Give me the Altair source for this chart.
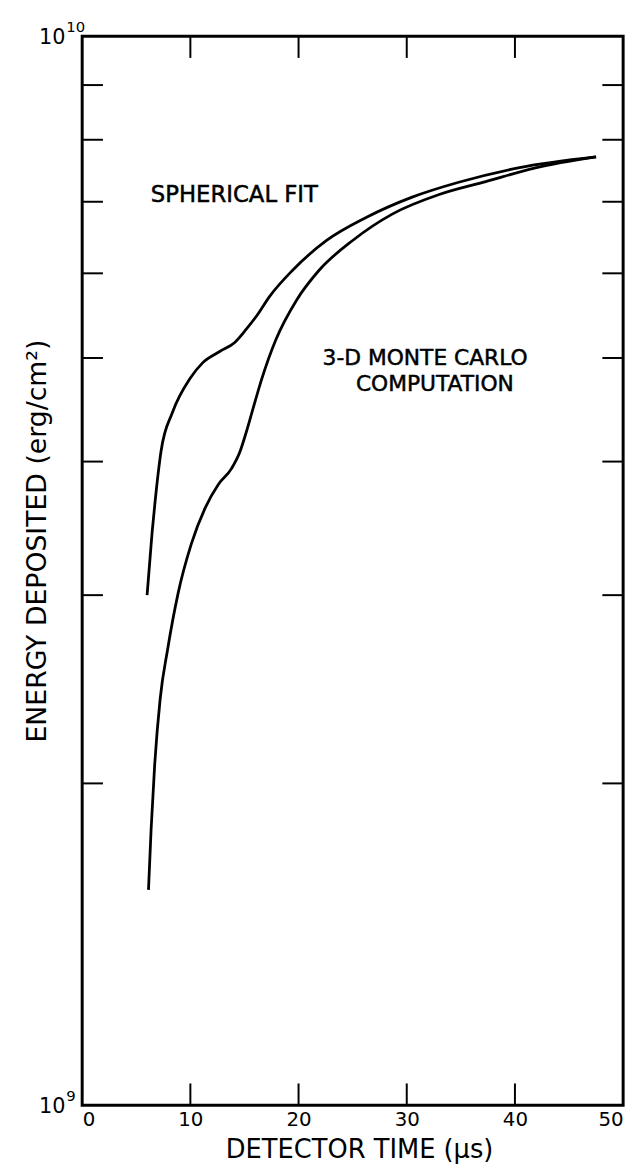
import altair as alt
import pandas as pd

# ---- data ----
sph_t = [6.0, 6.46, 6.74, 7.29, 8.36, 9.95, 11.15, 12.71, 14.1, 15.17, 16.1, 17.33,
         19.45, 22.59, 26.29, 30.5, 34.8, 40.3, 47.5]
sph_e = [3.00e9, 3.43e9, 3.67e9, 4.09e9, 4.45e9, 4.78e9, 4.95e9, 5.07e9, 5.17e9, 5.32e9,
         5.47e9, 5.71e9, 6.04e9, 6.44e9, 6.77e9, 7.07e9, 7.30e9, 7.53e9, 7.71e9]

mc_t = [6.13, 6.37, 6.70, 7.21, 7.90, 8.86, 10.09, 11.37, 12.6, 13.8, 14.6, 15.1, 15.7,
        16.6, 17.9, 19.8, 21.9, 25.0, 28.7, 33.0, 37.3, 41.9, 47.5]
mc_e = [1.59e9, 1.81e9, 2.08e9, 2.40e9, 2.67e9, 3.01e9, 3.35e9, 3.62e9, 3.81e9, 3.94e9,
        4.09e9, 4.24e9, 4.45e9, 4.78e9, 5.20e9, 5.66e9, 6.04e9, 6.44e9, 6.82e9, 7.11e9,
        7.31e9, 7.53e9, 7.71e9]

x_tick_values = [0, 10, 20, 30, 40, 50]
x_inner_ticks = [10, 20, 30, 40]
y_inner_ticks = [2e9, 3e9, 4e9, 5e9, 6e9, 7e9, 8e9, 9e9]
y_label_values = [1e9, 1e10]
y_label_base = ["10", "10"]
y_label_exp = ["9", "10"]

ann_text = ["SPHERICAL FIT", "3-D MONTE CARLO", "COMPUTATION"]
ann_t = [6.35, 31.7, 32.6]
ann_e = [6.99e9, 4.92e9, 4.66e9]
ann_align = ["left", "center", "center"]

W, H = 547, 1081
FONT = "DejaVu Sans"

curves = pd.DataFrame({
    "t": sph_t + mc_t,
    "e": sph_e + mc_e,
    "series": ["Spherical fit"] * len(sph_t) + ["3-D Monte Carlo"] * len(mc_t),
})

xs = alt.Scale(domain=[0, 50], nice=False, zero=False)
ys = alt.Scale(type="log", domain=[1e9, 1e10], nice=False)

x_axis = alt.Axis(values=x_tick_values, format="d", grid=False, ticks=False, domain=False,
                  labelFontSize=20, labelFont=FONT, labelColor="black", labelPadding=5,
                  title="DETECTOR TIME (\u03bcs)", titleFont=FONT, titleFontSize=26,
                  titleFontWeight="normal", titleColor="black",
                  titleX=280, titleY=53, titleBaseline="alphabetic", titleAlign="center")
y_axis = alt.Axis(labels=False, ticks=False, domain=False, grid=False,
                  title="ENERGY DEPOSITED (erg/cm\u00b2)", titleFont=FONT, titleFontSize=27,
                  titleFontWeight="normal", titleColor="black", titleAngle=-90,
                  titleX=-45, titleY=510, titleAlign="center", titleBaseline="middle")

lines = alt.Chart(curves).mark_line(interpolate="monotone", strokeWidth=2.8, color="black").encode(
    x=alt.X("t:Q", scale=xs, axis=x_axis),
    y=alt.Y("e:Q", scale=ys, axis=y_axis),
    detail="series:N",
)

ydf = pd.DataFrame({"e": y_inner_ticks})
xdf = pd.DataFrame({"t": x_inner_ticks})

left_ticks = alt.Chart(ydf).mark_rule(color="black", strokeWidth=2).encode(
    y=alt.Y("e:Q", scale=ys), x=alt.value(0), x2=alt.value(21))
right_ticks = alt.Chart(ydf).mark_rule(color="black", strokeWidth=2).encode(
    y=alt.Y("e:Q", scale=ys), x=alt.value(W - 21), x2=alt.value(W))
bottom_ticks = alt.Chart(xdf).mark_rule(color="black", strokeWidth=2).encode(
    x=alt.X("t:Q", scale=xs), y=alt.value(H - 22), y2=alt.value(H))
top_ticks = alt.Chart(xdf).mark_rule(color="black", strokeWidth=2).encode(
    x=alt.X("t:Q", scale=xs), y=alt.value(0), y2=alt.value(22))

ylab = pd.DataFrame({"e": y_label_values, "base": y_label_base, "exp": y_label_exp})
ybase = alt.Chart(ylab).mark_text(align="right", baseline="middle", fontSize=21, font=FONT,
                                  color="black", dy=2).encode(
    y=alt.Y("e:Q", scale=ys), x=alt.value(-17), text="base:N")
yexp = alt.Chart(ylab).mark_text(align="left", baseline="middle", fontSize=15, font=FONT,
                                 color="black", dy=-9).encode(
    y=alt.Y("e:Q", scale=ys), x=alt.value(-16), text="exp:N")

ann = pd.DataFrame({"t": ann_t, "e": ann_e, "txt": ann_text, "al": ann_align})
ann_left = alt.Chart(ann[ann["al"] == "left"]).mark_text(
    align="left", baseline="alphabetic", fontSize=23, font=FONT, color="black",
    stroke="black", strokeWidth=0.5).encode(
    x=alt.X("t:Q", scale=xs), y=alt.Y("e:Q", scale=ys), text="txt:N")
ann_center = alt.Chart(ann[ann["al"] == "center"]).mark_text(
    align="center", baseline="alphabetic", fontSize=22, font=FONT, color="black",
    stroke="black", strokeWidth=0.5).encode(
    x=alt.X("t:Q", scale=xs), y=alt.Y("e:Q", scale=ys), text="txt:N")

chart = alt.layer(
    lines, left_ticks, right_ticks, bottom_ticks, top_ticks, ybase, yexp, ann_left, ann_center
).properties(
    width=W, height=H,
    padding={"left": 75, "top": 22, "right": 12, "bottom": 56},
    autosize=alt.AutoSizeParams(type="none"),
    background="white",
).configure_view(stroke="black", strokeWidth=3)

chart.save("out.html", embed_options={"renderer": "svg", "actions": False})
